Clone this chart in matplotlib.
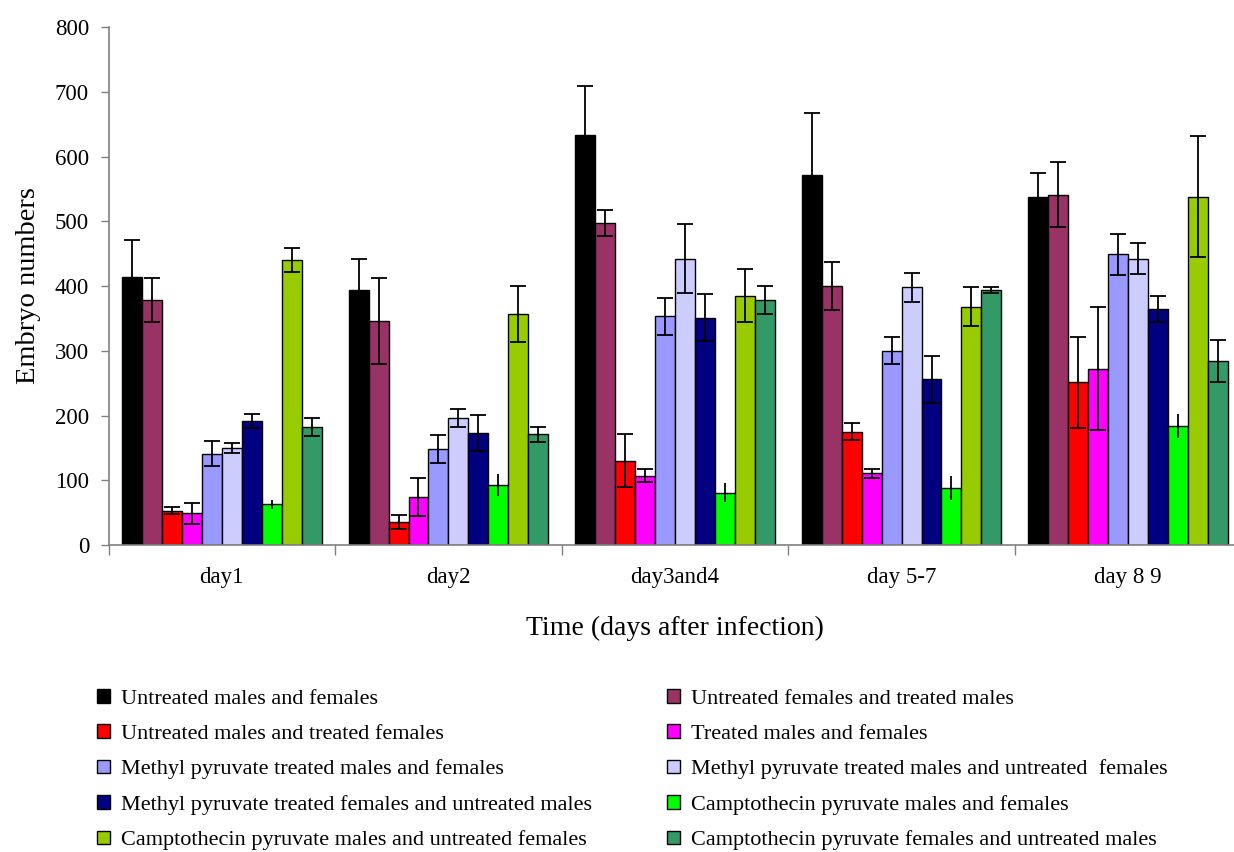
import matplotlib
matplotlib.use("Agg")
import matplotlib.pyplot as plt
import numpy as np

plt.rcParams['font.family'] = ['Liberation Serif', 'DejaVu Serif']

days = ["day1", "day2", "day3and4", "day 5-7", "day 8 9"]

series_names = [
    "Untreated males and females",
    "Untreated females and treated males",
    "Untreated males and treated females",
    "Treated males and females",
    "Methyl pyruvate treated males and females",
    "Methyl pyruvate treated males and untreated  females",
    "Methyl pyruvate treated females and untreated males",
    "Camptothecin pyruvate males and females",
    "Camptothecin pyruvate males and untreated females",
    "Camptothecin pyruvate females and untreated males",
]

colors = ["#000000", "#993366", "#FF0000", "#FF00FF", "#9999FF",
          "#CCCCFF", "#000080", "#00FF00", "#99CC00", "#339966"]

untreated_mf = [414, 394, 633, 571, 538]
untreated_f_treated_m = [378, 346, 497, 400, 541]
untreated_m_treated_f = [53, 35, 130, 175, 251]
treated_mf = [49, 74, 107, 111, 272]
mp_treated_mf = [141, 148, 353, 300, 449]
mp_treated_m_untreated_f = [150, 196, 442, 398, 442]
mp_treated_f_untreated_m = [191, 173, 351, 256, 364]
cp_mf = [63, 92, 81, 88, 184]
cp_m_untreated_f = [440, 357, 385, 368, 538]
cp_f_untreated_m = [182, 171, 378, 394, 284]

err_untreated_mf = [57, 48, 76, 96, 37]
err_untreated_f_treated_m = [34, 66, 20, 37, 50]
err_untreated_m_treated_f = [5, 11, 41, 13, 70]
err_treated_mf = [16, 29, 10, 7, 95]
err_mp_treated_mf = [19, 22, 28, 21, 32]
err_mp_treated_m_untreated_f = [8, 14, 53, 22, 24]
err_mp_treated_f_untreated_m = [11, 28, 36, 36, 20]
err_cp_mf = [7, 17, 14, 18, 18]
err_cp_m_untreated_f = [18, 43, 41, 30, 93]
err_cp_f_untreated_m = [14, 12, 22, 5, 33]

values = [untreated_mf, untreated_f_treated_m, untreated_m_treated_f, treated_mf,
          mp_treated_mf, mp_treated_m_untreated_f, mp_treated_f_untreated_m,
          cp_mf, cp_m_untreated_f, cp_f_untreated_m]
errors = [err_untreated_mf, err_untreated_f_treated_m, err_untreated_m_treated_f,
          err_treated_mf, err_mp_treated_mf, err_mp_treated_m_untreated_f,
          err_mp_treated_f_untreated_m, err_cp_mf, err_cp_m_untreated_f,
          err_cp_f_untreated_m]

fig = plt.figure(figsize=(12.34, 8.52), dpi=100)
ax = fig.add_axes([108.5 / 1234, 307 / 852, 1133 / 1234, 518 / 852])

x = np.arange(len(days))
n = len(values)
width = 0.088
handles = []
for i, (vals, errs, c) in enumerate(zip(values, errors, colors)):
    pos = x + (i - (n - 1) / 2) * width
    b = ax.bar(pos, vals, width, color=c, edgecolor="black", linewidth=1.0,
               label=series_names[i], zorder=2)
    handles.append(b)
    ax.errorbar(pos, vals, yerr=errs, fmt="none", ecolor="black",
                elinewidth=1.3, capsize=0 if i == 7 else 5.5, capthick=1.3,
                zorder=3)

ax.set_xlim(-0.5, len(days) - 0.5)
ax.set_ylim(0, 800)
ax.set_yticks(np.arange(0, 801, 100))
ax.set_xticks(x)
ax.set_xticklabels(days)
ax.set_xticks(np.arange(-0.5, len(days), 1.0), minor=True)
ax.tick_params(axis="x", which="major", length=0, pad=16, labelsize=16.5)
ax.tick_params(axis="x", which="minor", length=7, width=1, color="#808080")
ax.tick_params(axis="y", length=6, width=1, color="#808080", labelsize=16.5, pad=8)

for s in ("top", "right"):
    ax.spines[s].set_visible(False)
for s in ("left", "bottom"):
    ax.spines[s].set_color("#808080")
    ax.spines[s].set_linewidth(1.2)

ax.set_ylabel("Embryo numbers", fontsize=20.5, labelpad=10)
ax.set_xlabel("Time (days after infection)", fontsize=20, labelpad=20)

order = [0, 2, 4, 6, 8, 1, 3, 5, 7, 9]
fig.legend([handles[k] for k in order], [series_names[k] for k in order],
           ncol=2, loc="upper left", bbox_to_anchor=(88 / 1234, 1 - 680 / 852),
           frameon=False, fontsize=16, handlelength=0.58, handleheight=0.58,
           handletextpad=0.5, labelspacing=0.70, columnspacing=3.4,
           borderaxespad=0)

fig.savefig("out.png", dpi=100)
